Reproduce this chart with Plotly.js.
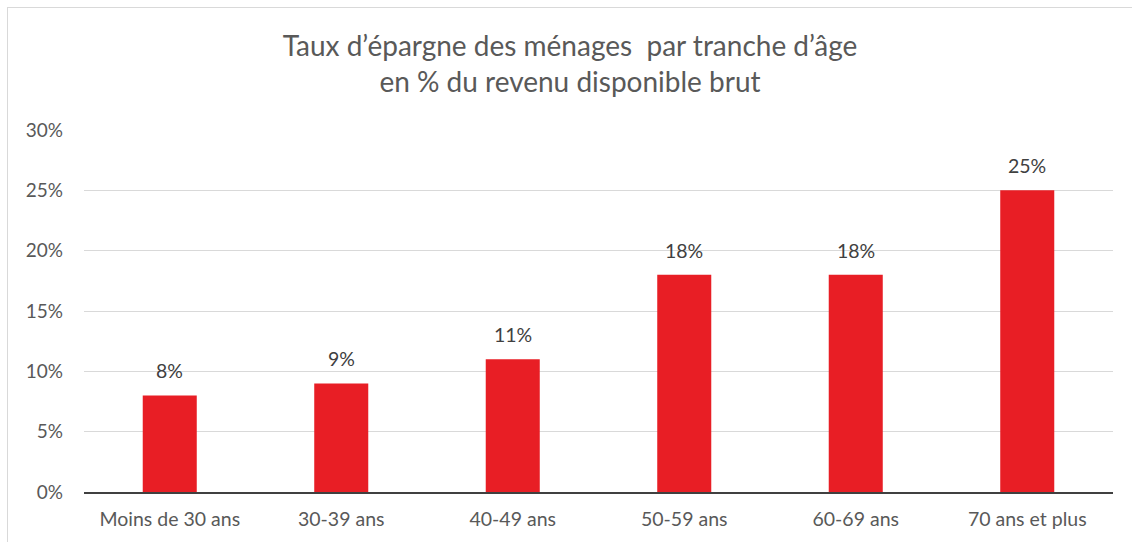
<!DOCTYPE html>
<html>
<head>
<meta charset="utf-8">
<script src="https://cdn.plot.ly/plotly-3.0.1.min.js"></script>
<style>
  html, body { margin: 0; padding: 0; background: #ffffff; overflow: hidden; }
  #frame { position: absolute; left: 7px; top: 7px; width: 1125px; height: 535px;
           border-left: 1px solid #d9d9d9; border-top: 1px solid #d9d9d9; box-sizing: border-box; }
  #chart { width: 1124px; height: 534px; }
</style>
</head>
<body>
<div id="frame"><div id="chart"></div></div>
<script>
const categories = ["Moins de 30 ans", "30-39 ans", "40-49 ans", "50-59 ans", "60-69 ans", "70 ans et plus"];
const savingsRate = [8, 9, 11, 18, 18, 25];
const tickValues = [0, 5, 10, 15, 20, 25, 30];
const tickLabels = ["0%", "5%", "10%", "15%", "20%", "25%", "30%"];
const titleText = "Taux d’épargne des ménages&nbsp; par tranche d’âge<br>en % du revenu disponible brut";

const FONT = "Lato, 'Open Sans', sans-serif";

const trace = {
  type: "bar",
  x: categories,
  y: savingsRate,
  width: 0.315,
  marker: { color: "#e81e25", line: { width: 0 } },
  hoverinfo: "skip"
};

const annotations = categories.map((c, i) => ({
  x: c, y: savingsRate[i], xref: "x", yref: "y",
  text: savingsRate[i] + "%", showarrow: false,
  yanchor: "bottom", yshift: 11,
  font: { family: FONT, size: 19.5, color: "#404040" }
}));

const layout = {
  width: 1124, height: 534,
  margin: { l: 76, r: 19, t: 122, b: 50 },
  paper_bgcolor: "#ffffff", plot_bgcolor: "#ffffff",
  title: {
    text: titleText,
    x: 0.5, xanchor: "center",
    y: 0.911, yanchor: "middle",
    font: { family: FONT, size: 28, color: "#595959" }
  },
  xaxis: {
    type: "category",
    showgrid: false,
    showline: true, linecolor: "#404040", linewidth: 1.5,
    ticks: "", ticklen: 0, ticklabelstandoff: 9,
    tickfont: { family: FONT, size: 19.5, color: "#595959" },
    fixedrange: true
  },
  yaxis: {
    range: [0, 30],
    tickvals: tickValues, ticktext: tickLabels,
    showgrid: true, gridcolor: "#d9d9d9", gridwidth: 1,
    zeroline: false, showline: false,
    ticks: "", ticklabelstandoff: 20,
    tickfont: { family: FONT, size: 19, color: "#595959" },
    fixedrange: true
  },
  annotations: annotations,
  showlegend: false,
  bargap: 0.685
};

Plotly.newPlot("chart", [trace], layout, { displayModeBar: false, staticPlot: true });
</script>
</body>
</html>
